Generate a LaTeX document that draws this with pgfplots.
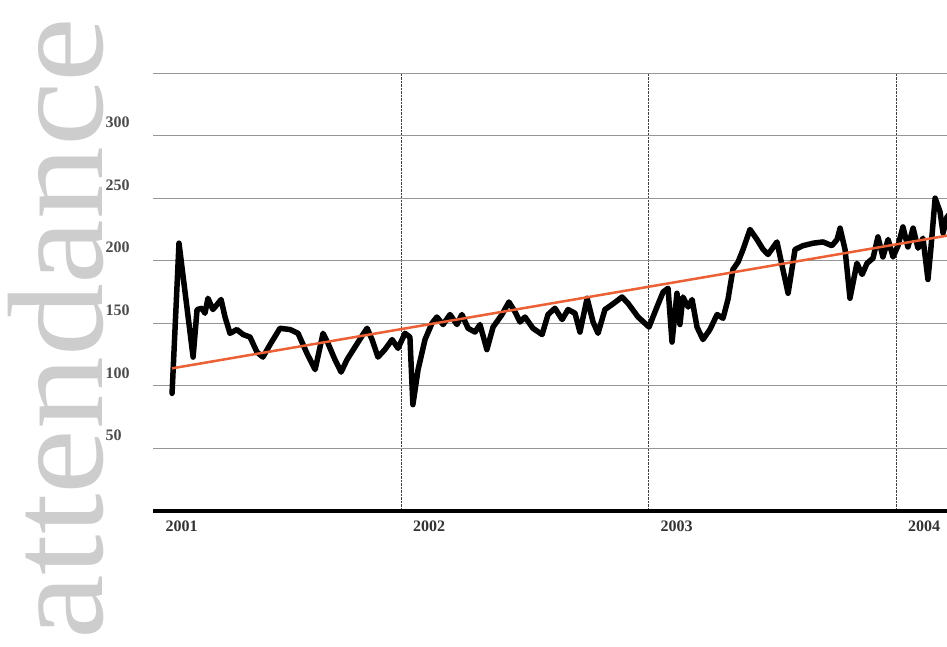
\documentclass[border=0pt]{standalone}
\usepackage{fontspec}
\setmainfont{Liberation Serif}
\usepackage{graphicx}
\usepackage{pgfplots}
\pgfplotsset{compat=1.18}

\definecolor{trendorange}{RGB}{235,96,52}
\definecolor{gridgray}{RGB}{150,150,150}
\definecolor{titlegray}{RGB}{205,205,205}

\begin{document}
\begin{tikzpicture}
\useasboundingbox (-153.5pt,-135pt) rectangle (793.5pt,511pt);

% big faint y label
\node[rotate=90, anchor=base west, inner sep=0, text=titlegray,
      font=\fontsize{136}{136}\selectfont] at (-51pt,-129pt) {\scalebox{1.07}[1]{attendance}};

\begin{axis}[
    at={(0pt,0pt)}, anchor=origin,
    scale only axis,
    width=793.5pt, height=438pt,
    xmin=2001, xmax=2004.206,
    ymin=0, ymax=350,
    axis x line=bottom,
    axis y line=left,
    x axis line style={line width=4pt, -},
    y axis line style={draw=none},
    major tick length=0pt,
    tick style={draw=none},
    xtick={2002,2003,2004},
    xticklabels={2002,2003,2004},
    extra x ticks={2001},
    extra x tick labels={2001},
    extra x tick style={grid=none},
    ytick={50,100,150,200,250,300,350},
    yticklabels={50,100,150,200,250,300,{}},
    xmajorgrids=true,
    ymajorgrids=true,
    every axis x grid/.style={densely dotted, line width=1pt, black!75},
    every axis y grid/.style={solid, line width=1pt, gridgray},
    xticklabel style={anchor=north west, inner sep=0pt, xshift=12pt, yshift=-10pt,
                      font=\fontsize{16}{16}\selectfont\bfseries, text=black!80},
    yticklabel style={anchor=west, inner sep=0pt, xshift=-48pt, yshift=13pt,
                      font=\fontsize{16}{16}\selectfont\bfseries, text=black!70},
]

\addplot[black, line width=5.5pt, line join=round, line cap=round] coordinates {
(2001.075,94)(2001.103,214)(2001.160,123)(2001.176,161)(2001.196,162)
(2001.208,158)(2001.220,170)(2001.240,161)(2001.257,165)(2001.273,169)
(2001.289,155)(2001.309,142)(2001.337,145)(2001.362,141)(2001.390,139)
(2001.418,127)(2001.442,123)(2001.471,133)(2001.511,146)(2001.552,145)
(2001.584,142)(2001.620,126)(2001.653,113)(2001.685,142)(2001.705,134)
(2001.733,121)(2001.758,111)(2001.782,121)(2001.814,131)(2001.846,141)
(2001.863,146)(2001.883,137)(2001.907,123)(2001.935,129)(2001.964,137)
(2001.988,130)(2002.016,142)(2002.036,139)(2002.048,85)(2002.069,113)
(2002.097,137)(2002.125,150)(2002.145,155)(2002.170,149)(2002.198,157)
(2002.226,149)(2002.246,157)(2002.271,146)(2002.299,143)(2002.319,149)
(2002.347,129)(2002.372,147)(2002.408,157)(2002.436,167)(2002.461,159)
(2002.481,151)(2002.501,155)(2002.533,146)(2002.570,141)(2002.594,157)
(2002.622,162)(2002.651,153)(2002.675,161)(2002.703,158)(2002.723,143)
(2002.752,170)(2002.776,151)(2002.796,142)(2002.824,161)(2002.853,165)
(2002.893,171)(2002.917,166)(2002.958,155)(2003.002,147)(2003.034,163)
(2003.059,175)(2003.079,178)(2003.095,135)(2003.115,174)(2003.127,149)
(2003.139,171)(2003.160,163)(2003.176,169)(2003.196,147)(2003.220,137)
(2003.248,145)(2003.277,157)(2003.301,154)(2003.321,169)(2003.341,193)
(2003.362,199)(2003.382,209)(2003.410,225)(2003.438,217)(2003.463,209)
(2003.483,205)(2003.519,215)(2003.543,193)(2003.564,174)(2003.592,209)
(2003.624,212)(2003.665,214)(2003.705,215)(2003.741,212)(2003.762,217)
(2003.774,226)(2003.794,209)(2003.814,170)(2003.842,198)(2003.863,189)
(2003.883,198)(2003.907,202)(2003.927,219)(2003.947,203)(2003.968,217)
(2003.988,203)(2004.008,212)(2004.028,227)(2004.048,211)(2004.069,226)
(2004.089,210)(2004.109,218)(2004.129,185)(2004.141,210)(2004.158,250)
(2004.178,239)(2004.190,222)(2004.206,235)(2004.230,240)
};

\addplot[trendorange, line width=2.5pt] coordinates {
(2001.075,114)(2004.250,221.5)
};

\end{axis}
\end{tikzpicture}
\end{document}
